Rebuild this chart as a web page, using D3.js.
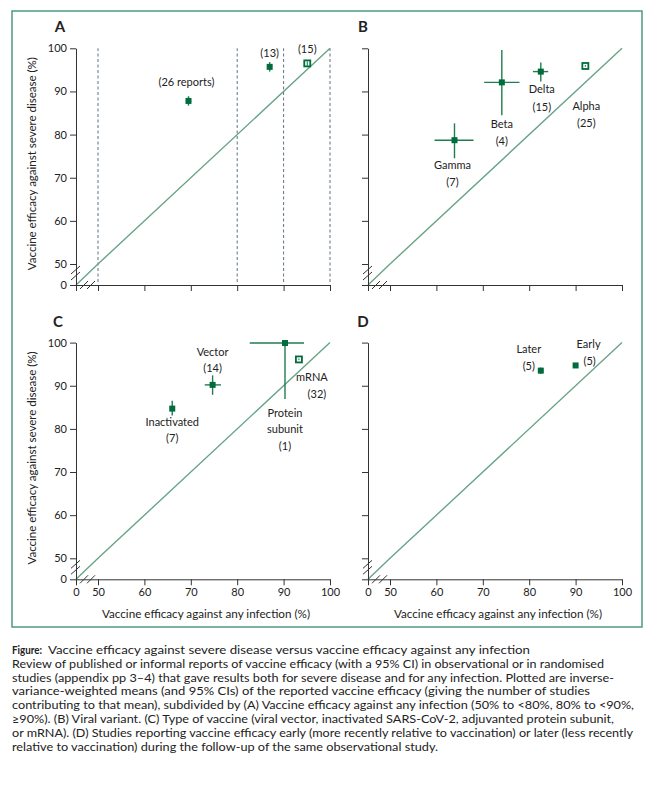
<!DOCTYPE html>
<html>
<head>
<meta charset="utf-8">
<script src="https://cdn.jsdelivr.net/npm/d3@7"></script>
<style>
  body { margin: 0; background: #fff; }
  text { font-family: Lato, 'Open Sans', sans-serif; fill: #222; }
</style>
</head>
<body>
<svg id="fig" width="657" height="793"></svg>
<script>
// ---- data ----
const xTicks = [0, 50, 60, 70, 80, 90, 100]
const yTicks = [0, 50, 60, 70, 80, 90, 100]

// (A) efficacy against any infection bands
const aBands = [50, 80, 90, 100]
const aLabels = ["(26 reports)", "(13)", "(15)"]
const aX   = [69.5, 87.0, 95.1]
const aXlo = [69.0, 86.6, 94.8]
const aXhi = [70.1, 87.4, 95.4]
const aY   = [87.8, 95.7, 96.5]
const aYlo = [86.7, 94.6, 95.9]
const aYhi = [88.9, 96.8, 97.0]
const aOpen = [false, false, true]

// (B) viral variant
const bLabels = ["Gamma\n(7)", "Beta\n(4)", "Delta\n(15)", "Alpha\n(25)"]
const bX   = [63.9, 74.1, 82.5, 92.1]
const bXlo = [59.6, 70.3, 80.8, 91.9]
const bXhi = [68.0, 77.9, 84.1, 92.3]
const bY   = [78.7, 92.1, 94.6, 95.9]
const bYlo = [74.5, 84.5, 92.3, 95.7]
const bYhi = [82.6, 99.6, 96.7, 96.1]
const bOpen = [false, false, false, true]

// (C) type of vaccine
const cLabels = ["Inactivated\n(7)", "Vector\n(14)", "Protein\nsubunit\n(1)", "mRNA\n(32)"]
const cX   = [66.0, 74.7, 90.3, 93.3]
const cXlo = [65.6, 73.0, 82.7, 93.1]
const cXhi = [66.4, 76.5, 94.4, 93.5]
const cY   = [84.7, 90.2, 99.9, 96.1]
const cYlo = [83.1, 87.9, 86.9, 95.9]
const cYhi = [86.5, 92.4, 100, 96.3]
const cOpen = [false, false, false, true]

// (D) early vs later
const dLabels = ["Later\n(5)", "Early\n(5)"]
const dX   = [82.5, 90.0]
const dXlo = [82.2, 89.7]
const dXhi = [82.8, 90.3]
const dY   = [93.5, 94.7]
const dYlo = [92.7, 94.3]
const dYhi = [94.2, 95.1]
const dOpen = [false, false]

const captionLines = [
  "Vaccine efficacy against severe disease versus vaccine efficacy against any infection",
  "Review of published or informal reports of vaccine efficacy (with a 95% CI) in observational or in randomised",
  "studies (appendix pp 3–4) that gave results both for severe disease and for any infection. Plotted are inverse-",
  "variance-weighted means (and 95% CIs) of the reported vaccine efficacy (giving the number of studies",
  "contributing to that mean), subdivided by (A) Vaccine efficacy against any infection (50% to <80%, 80% to <90%,",
  "≥90%). (B) Viral variant. (C) Type of vaccine (viral vector, inactivated SARS-CoV-2, adjuvanted protein subunit,",
  "or mRNA). (D) Studies reporting vaccine efficacy early (more recently relative to vaccination) or later (less recently",
  "relative to vaccination) during the follow-up of the same observational study."
]

// ---- layout (pixel offsets of label lines from their point) ----
const aLabelPos = [[[-2, -19]], [[0, -14]], [[0, -14]]]
const bLabelPos = [[[-2, 25], [-2, 42]], [[0, 42], [0, 59]], [[1, 17], [1, 35]], [[1, 40], [1, 57]]]
const cLabelPos = [[[0, 13], [0, 29]], [[0, -33], [0, -17]], [[0, 70], [0, 86], [0, 103]], [[13, 18], [18, 35]]]
const dLabelPos = [[[-12, -22], [-12, -5]], [[13, -21], [14, -4]]]
const captionWidths = [482, 592, 602, 578, 622, 602, 621, 426]

const green = "#006b3c"
const barGreen = "#1f7d50"
const diagGreen = "#68a488"
const frameGreen = "#4f9a7e"

const svg = d3.select("#fig")

// frame
svg.append("rect").attr("x", 12).attr("y", 11).attr("width", 630).attr("height", 616)
  .attr("fill", "none").attr("stroke", frameGreen).attr("stroke-width", 1.5)

function rows(labels, x, xlo, xhi, y, ylo, yhi, open, pos) {
  return labels.map((l, i) => ({ label: l, x: x[i], xlo: xlo[i], xhi: xhi[i], y: y[i], ylo: ylo[i], yhi: yhi[i], open: open[i], pos: pos[i] }))
}

const panels = [
  { key: "A", left: 76, base: 285, letterX: 60, yLab: true, xLab: false, bands: aBands,
    data: rows(aLabels, aX, aXlo, aXhi, aY, aYlo, aYhi, aOpen, aLabelPos) },
  { key: "B", left: 368, base: 285, letterX: 363, yLab: false, xLab: false, bands: [],
    data: rows(bLabels, bX, bXlo, bXhi, bY, bYlo, bYhi, bOpen, bLabelPos) },
  { key: "C", left: 76, base: 579.3, letterX: 58, yLab: true, xLab: true, bands: [],
    data: rows(cLabels, cX, cXlo, cXhi, cY, cYlo, cYhi, cOpen, cLabelPos) },
  { key: "D", left: 368, base: 579.3, letterX: 363, yLab: false, xLab: true, bands: [],
    data: rows(dLabels, dX, dXlo, dXhi, dY, dYlo, dYhi, dOpen, dLabelPos) }
]

panels.forEach(p => {
  const x = d3.scaleLinear().domain([0, 50, 100]).range([p.left, p.left + 22, p.left + 254])
  const y = d3.scaleLinear().domain([0, 50, 100]).range([p.base, p.base - 21, p.base - 236.7])
  const g = svg.append("g")

  // panel letter
  g.append("text").attr("x", p.letterX).attr("y", y(100) - 16).attr("text-anchor", "middle")
    .style("font-size", "15px").style("font-weight", "bold").text(p.key)

  // dashed band limits
  g.selectAll(".band").data(p.bands).enter().append("line")
    .attr("x1", d => x(d)).attr("x2", d => x(d)).attr("y1", y(0) - 3).attr("y2", y(100))
    .attr("stroke", "#5d7184").attr("stroke-width", 1).attr("stroke-dasharray", "3,2.5")

  // line of equality
  g.append("path").datum([0, 50, 100])
    .attr("d", d3.line().x(d => x(d)).y(d => y(d)))
    .attr("fill", "none").attr("stroke", diagGreen).attr("stroke-width", 1.4)

  // axes
  const xa = g.append("g").attr("transform", `translate(0,${y(0)})`)
    .call(d3.axisBottom(x).tickValues(xTicks).tickSize(6).tickSizeOuter(0).tickPadding(3)
      .tickFormat(p.xLab ? d3.format("d") : ""))
  const ya = g.append("g").attr("transform", `translate(${x(0)},0)`)
    .call(d3.axisLeft(y).tickValues(yTicks).tickSize(6).tickSizeOuter(0).tickPadding(3)
      .tickFormat(p.yLab ? d3.format("d") : ""))
  ;[xa, ya].forEach(a => {
    a.attr("font-family", null).attr("font-size", null)
    a.selectAll("path, line").attr("stroke", "#333")
    a.selectAll("text").style("font-size", "11px").attr("fill", "#222")
  })

  // axis break marks
  const brk = g.append("g").attr("stroke", "#333").attr("stroke-width", 1)
  ;[6, 12].forEach(o => {
    const cy = y(50) + o
    brk.append("line").attr("x1", x(0) - 5).attr("y1", cy + 4).attr("x2", x(0) + 4).attr("y2", cy - 4)
  })
  ;[8, 15].forEach(o => {
    const cx = x(0) + o
    brk.append("line").attr("x1", cx - 4).attr("y1", y(0) + 4).attr("x2", cx + 4).attr("y2", y(0) - 4)
  })

  // error bars
  const pts = g.selectAll(".pt").data(p.data).enter().append("g")
  pts.filter(d => !d.open).append("line")
    .attr("x1", d => x(d.xlo)).attr("x2", d => x(d.xhi)).attr("y1", d => y(d.y)).attr("y2", d => y(d.y))
    .attr("stroke", barGreen).attr("stroke-width", 1.4)
  pts.filter(d => !d.open).append("line")
    .attr("x1", d => x(d.x)).attr("x2", d => x(d.x)).attr("y1", d => y(d.ylo)).attr("y2", d => y(d.yhi))
    .attr("stroke", barGreen).attr("stroke-width", 1.4)

  // markers
  pts.append("rect")
    .attr("x", d => x(d.x) - 3).attr("y", d => y(d.y) - 3)
    .attr("width", 6).attr("height", 6)
    .attr("fill", d => d.open ? "#fff" : green)
    .attr("stroke", d => d.open ? green : "none").attr("stroke-width", 1.8)
  pts.filter(d => d.open).append("line")
    .attr("x1", d => x(d.x)).attr("x2", d => x(d.x)).attr("y1", d => y(d.ylo)).attr("y2", d => y(d.yhi))
    .attr("stroke", barGreen).attr("stroke-width", 1.1)

  // labels
  pts.each(function (d) {
    const lines = d.label.split("\n")
    lines.forEach((t, i) => {
      d3.select(this).append("text")
        .attr("x", x(d.x) + d.pos[i][0]).attr("y", y(d.y) + d.pos[i][1] + 4)
        .attr("text-anchor", "middle").style("font-size", "11px").text(t)
    })
  })

  // axis titles
  if (p.yLab) {
    g.append("text").attr("transform", `translate(36,${(y(100) + y(0)) / 2 - 3}) rotate(-90)`)
      .attr("text-anchor", "middle").attr("textLength", 213).attr("lengthAdjust", "spacingAndGlyphs")
      .style("font-size", "11px").text("Vaccine efficacy against severe disease (%)")
  }
  if (p.xLab) {
    g.append("text").attr("x", (x(0) + x(100)) / 2 + 3).attr("y", 618)
      .attr("text-anchor", "middle").attr("textLength", 208).attr("lengthAdjust", "spacingAndGlyphs")
      .style("font-size", "11px").text("Vaccine efficacy against any infection (%)")
  }
})

// caption
const cap = svg.append("g")
cap.append("text").attr("x", 12).attr("y", 654).attr("textLength", 30).attr("lengthAdjust", "spacingAndGlyphs")
  .style("font-size", "12px").style("font-weight", "bold").text("Figure:")
captionLines.forEach((t, i) => {
  cap.append("text")
    .attr("x", i === 0 ? 48 : 12).attr("y", 654 + i * 13.8)
    .attr("textLength", captionWidths[i]).attr("lengthAdjust", "spacingAndGlyphs")
    .style("font-size", "12px").text(t)
})
</script>
</body>
</html>
